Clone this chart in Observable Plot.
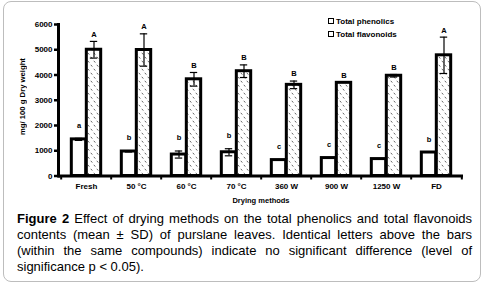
<!DOCTYPE html>
<html><head><meta charset="utf-8">
<script src="https://cdn.jsdelivr.net/npm/d3@7"></script>
<script src="https://cdn.jsdelivr.net/npm/@observablehq/plot@0.6"></script>
<style>
html,body{margin:0;padding:0;background:#fff;}
#page{position:relative;width:487px;height:292px;overflow:hidden;font-family:"Liberation Sans",Arial,sans-serif;}
#box{position:absolute;left:3px;top:1px;width:478px;height:281px;border:1.5px solid #bdbdbd;border-radius:8px;box-sizing:border-box;}
#chart{position:absolute;left:0;top:0;}
#legend{position:absolute;left:328px;top:15px;font-size:8px;font-weight:bold;line-height:13px;color:#000;}
#legend span.sw{display:inline-block;width:4px;height:4px;border:1.5px solid #000;background:#fff;margin-right:2px;vertical-align:0px;}
#ylabel{position:absolute;left:18px;top:55px;width:10px;height:84px;writing-mode:vertical-rl;transform:rotate(180deg);text-align:center;white-space:nowrap;font-size:7.7px;line-height:10px;font-weight:bold;color:#000;}
#caption{position:absolute;left:17px;top:211px;width:455px;font-size:13px;line-height:16px;text-align:justify;color:#000;}
</style></head>
<body><div id="page"><div id="box"></div><div id="chart"></div>
<div id="legend"></div>
<div id="ylabel"></div>
<div id="caption"><b>Figure 2</b> Effect of drying methods on the total phenolics and total flavonoids contents (mean ± SD) of purslane leaves. Identical letters above the bars (within the same compounds) indicate no significant difference (level of significance p &lt; 0.05).</div>
</div>
<script>
const categories = ["Fresh", "50 °C", "60 °C", "70 °C", "360 W", "900 W", "1250 W", "FD"];
const seriesNames = ["Total phenolics", "Total flavonoids"];
const phenolics = [1450, 970, 850, 940, 630, 710, 670, 930];
const phenolicsSD = [40, 20, 140, 140, 0, 0, 0, 0];
const phenolicsLetters = ["a", "b", "b", "b", "c", "c", "c", "b"];
const flavonoids = [5000, 4990, 3830, 4150, 3610, 3690, 3970, 4780];
const flavonoidsSD = [330, 640, 270, 250, 150, 0, 50, 720];
const flavonoidsLetters = ["A", "A", "B", "B", "B", "B", "B", "A"];
const yTicks = [0, 1000, 2000, 3000, 4000, 5000, 6000];
const yLabel = "mg/ 100 g Dry weight";
const xLabel = "Drying methods";

const W = 487, H = 207, ML = 58, MR = 24, MT = 24, MB = 31.5;
const step = (W - ML - MR) / categories.length;
const barW = 15, capW = 8;
const pad = (step - 2 * barW) / 2;

const rowsP = categories.map((c, i) => ({cat: c, value: phenolics[i], sd: phenolicsSD[i], letter: phenolicsLetters[i]}));
const rowsF = categories.map((c, i) => ({cat: c, value: flavonoids[i], sd: flavonoidsSD[i], letter: flavonoidsLetters[i]}));

function errMarks(rows, k) {
  const center = pad + barW * k + barW / 2; // offset from band start
  const dx = center - step / 2;
  const withSD = rows.filter(d => d.sd > 0);
  return [
    Plot.ruleX(withSD, {x: "cat", y1: d => d.value - d.sd, y2: d => d.value + d.sd, dx, stroke: "#000", strokeWidth: 1.2}),
    Plot.tickY(withSD, {x: "cat", y: d => d.value + d.sd, insetLeft: center - capW / 2, insetRight: step - center - capW / 2, stroke: "#000", strokeWidth: 1.2}),
    Plot.tickY(withSD, {x: "cat", y: d => d.value - d.sd, insetLeft: center - capW / 2, insetRight: step - center - capW / 2, stroke: "#000", strokeWidth: 1.2}),
    Plot.text(rows, {x: "cat", y: d => d.value + d.sd, dx, dy: k === 0 ? -13 : -7, text: "letter", fontSize: 7.5, fontWeight: "bold", fill: "#000"})
  ];
}

const chart = Plot.plot({
  width: W, height: H,
  marginLeft: ML, marginRight: MR, marginTop: MT, marginBottom: MB,
  style: {fontFamily: "'Liberation Sans', Arial, sans-serif", background: "transparent", overflow: "visible"},
  x: {domain: categories, padding: 0},
  y: {domain: [0, 6000]},
  marks: [
    Plot.barY(rowsP, {x: "cat", y: "value", fill: "#fff", stroke: "#000", strokeWidth: 3, insetLeft: pad, insetRight: step - pad - barW}),
    Plot.barY(rowsF, {x: "cat", y: "value", fill: "url(#flavHatch)", stroke: "#000", strokeWidth: 3, insetLeft: pad + barW, insetRight: pad}),
    ...errMarks(rowsP, 0),
    ...errMarks(rowsF, 1),
    Plot.axisY(yTicks, {tickSize: 4, tickPadding: 2, strokeWidth: 2.5, fontSize: 8, fontWeight: "bold", tickFormat: d3.format("d"), label: null}),
    Plot.axisX({tickSize: 0, tickPadding: 7, fontSize: 8, fontWeight: "bold", label: xLabel, labelAnchor: "center", labelArrow: "none", labelOffset: 27}),
    Plot.axisX(categories, {tickSize: 4, strokeWidth: 2, dx: -step / 2, tickFormat: () => "", label: null}),
    Plot.axisX(categories.slice(-1), {tickSize: 4, strokeWidth: 2, dx: step / 2, tickFormat: () => "", label: null}),
    Plot.ruleY([0], {stroke: "#000", strokeWidth: 3}),
    Plot.frame({anchor: "left", stroke: "#000", strokeWidth: 3})
  ]
});

// hatch pattern for flavonoid bars
const svg = d3.select(chart);
const defs = svg.insert("defs", ":first-child");
const pat = defs.append("pattern").attr("id", "flavHatch").attr("patternUnits", "userSpaceOnUse")
  .attr("width", 6).attr("height", 8);
pat.append("rect").attr("width", 6).attr("height", 8).attr("fill", "#fff");
pat.append("line").attr("x1", 0.8).attr("y1", 0.8).attr("x2", 2.3).attr("y2", 2.6).attr("stroke", "#555").attr("stroke-width", 0.9);
pat.append("line").attr("x1", 3.8).attr("y1", 4.8).attr("x2", 5.3).attr("y2", 6.6).attr("stroke", "#555").attr("stroke-width", 0.9);
svg.selectAll("[aria-label^='x-axis label'] text").attr("font-size", 7.5).attr("font-weight", "bold");

document.getElementById("chart").appendChild(chart);
document.getElementById("ylabel").textContent = yLabel;
document.getElementById("legend").innerHTML = seriesNames.map(s => `<div><span class="sw"></span>${s}</div>`).join("");
</script>
</body></html>
